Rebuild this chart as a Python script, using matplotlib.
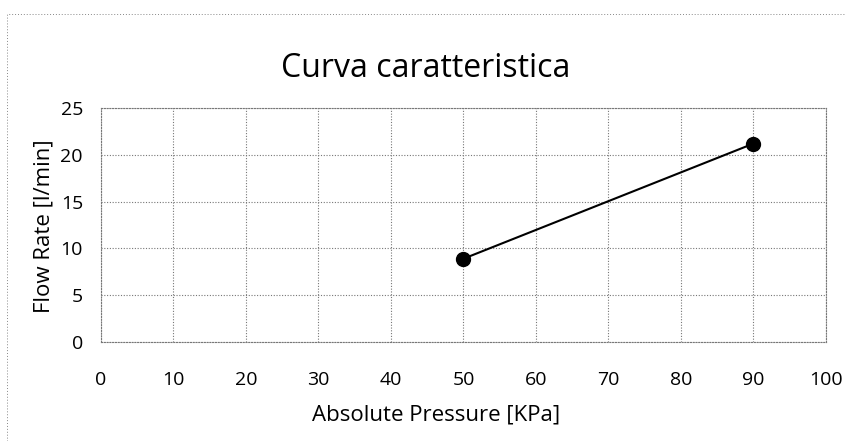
import matplotlib
matplotlib.use("Agg")
import matplotlib.pyplot as plt
from matplotlib.lines import Line2D

pressure = [50, 90]
flow_rate = [8.9, 21.2]
x_ticks = [0, 10, 20, 30, 40, 50, 60, 70, 80, 90, 100]
y_ticks = [0, 5, 10, 15, 20, 25]
title = "Curva caratteristica"
xlabel = "Absolute Pressure [KPa]"
ylabel = "Flow Rate [l/min]"

plt.rcParams['font.family'] = ['Open Sans', 'DejaVu Sans']

W, H = 853, 441
fig = plt.figure(figsize=(W / 100, H / 100), dpi=100)
ax = fig.add_axes([101 / W, 1 - 342 / H, (826 - 101) / W, (342 - 108) / H])

ax.plot(pressure, flow_rate, color='black', linewidth=1.5, marker='o',
        markersize=10, markerfacecolor='black', markeredgecolor='black', zorder=3)

ax.set_xlim(0, 100)
ax.set_ylim(0, 25)
ax.set_xticks(x_ticks)
ax.set_yticks(y_ticks)
ax.tick_params(axis='both', length=0, labelsize=14)
ax.tick_params(axis='x', pad=21)
ax.tick_params(axis='y', pad=13)
ax.grid(True, color='#777777', linestyle=(0, (1, 1.5)), linewidth=0.8)
for s in ax.spines.values():
    s.set_color('#777777')
    s.set_linestyle((0, (1, 1.5)))
    s.set_linewidth(0.8)

fig.text(436 / W, 1 - 420 / H, xlabel, fontsize=16, ha='center', va='baseline')
fig.text(44 / W, 1 - 226 / H, ylabel, fontsize=16, ha='center', va='center',
         rotation=90)
fig.text(426 / W, 1 - 77 / H, title, fontsize=23, ha='center', va='baseline')

# outer chart border (dotted, left and top visible)
fig.lines.append(Line2D([7 / W, 7 / W, 845 / W], [0.0, 1 - 14 / H, 1 - 14 / H],
                        transform=fig.transFigure, color='#888888',
                        linestyle=(0, (1, 2)), linewidth=0.7))

fig.savefig("out.png", dpi=100)
